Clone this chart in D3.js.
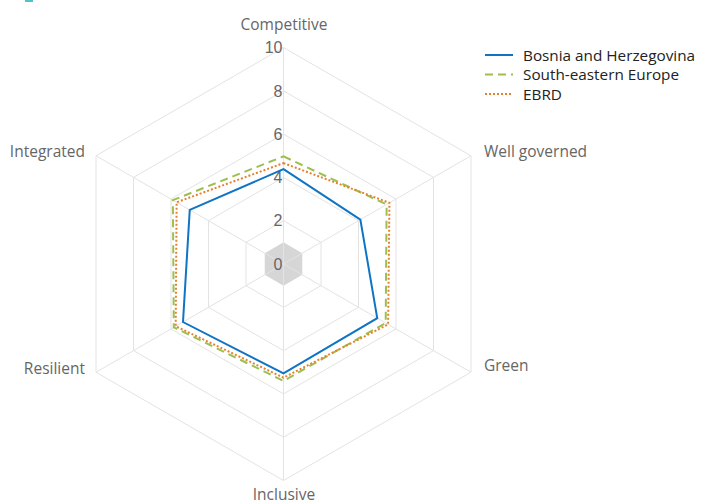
<!DOCTYPE html>
<html><head><meta charset="utf-8">
<script src="https://cdn.jsdelivr.net/npm/d3@7"></script>
<style>body{margin:0;background:#fff}</style>
</head><body>
<svg id="c" width="704" height="504"></svg>
<script>
const axes = ["Competitive","Well governed","Green","Inclusive","Resilient","Integrated"];
const seriesNames = ["Bosnia and Herzegovina","South-eastern Europe","EBRD"];
const bosnia = [4.38, 4.1, 5.0, 5.05, 5.36, 5.0];
const see = [4.97, 5.5, 5.45, 5.4, 5.85, 5.9];
const ebrd = [4.66, 5.65, 5.58, 5.25, 5.75, 5.7];
const ticks = [0, 2, 4, 6, 8, 10];
const colors = ["#0f74c4", "#9dbf4f", "#e5822e"];
const dashes = [null, "8,5", "2,2"];

const svg = d3.select("#c");
const cx = 283.5, cy = 264;
const r = d3.scaleLinear().domain([0, 10]).range([0, 216.5]);
const ang = d3.scalePoint().domain(axes).range([0, 2*Math.PI*5/6]);
const pt = (a, v) => [cx + r(v)*Math.sin(ang(a)), cy - r(v)*Math.cos(ang(a))];
const poly = vals => axes.map((a,i) => pt(a, vals[i]));
const line = d3.line().curve(d3.curveLinearClosed);

svg.append("rect").attr("x",25).attr("y",0).attr("width",8).attr("height",2).attr("fill","#4fc3c6");

// grey centre
svg.append("path").attr("d", line(axes.map(a => pt(a, 1)))).attr("fill", "#d6d6d6");

// grid rings
svg.selectAll(".ring").data(ticks.filter(t => t > 0)).join("path")
  .attr("d", t => line(axes.map(a => pt(a, t))))
  .attr("fill","none").attr("stroke","#e3e3e3").attr("stroke-width",1);
// spokes
svg.selectAll(".spoke").data(axes).join("line")
  .attr("x1",cx).attr("y1",cy)
  .attr("x2",a => pt(a,10)[0]).attr("y2",a => pt(a,10)[1])
  .attr("stroke","#e3e3e3").attr("stroke-width",1);

// tick labels
svg.selectAll(".tick").data(ticks).join("text")
  .attr("x", cx - 1).attr("y", t => cy - r(t)).attr("dy","0.36em")
  .attr("text-anchor","end")
  .style("font-family","'Liberation Sans', Arial, sans-serif").style("font-size","16px").attr("fill","#666")
  .text(d => d);

// series
const data = [bosnia, see, ebrd];
svg.selectAll(".series").data(data).join("path")
  .attr("d", d => line(poly(d)))
  .attr("fill","none")
  .attr("stroke",(d,i) => colors[i])
  .attr("stroke-width",2)
  .attr("stroke-dasharray",(d,i) => dashes[i]);

// axis labels
const lab = [
  {x: 284, y: 30, a: "middle"},
  {x: 484, y: 157, a: "start"},
  {x: 484, y: 371, a: "start"},
  {x: 284, y: 500, a: "middle"},
  {x: 85, y: 374, a: "end"},
  {x: 85, y: 157, a: "end"}
];
svg.selectAll(".alab").data(axes).join("text")
  .attr("x",(d,i)=>lab[i].x).attr("y",(d,i)=>lab[i].y)
  .attr("text-anchor",(d,i)=>lab[i].a)
  .style("font-family","'Open Sans', sans-serif").style("font-size","15.5px").attr("fill","#666")
  .text(d=>d);

// legend
const lg = svg.append("g").attr("transform","translate(485,55)");
seriesNames.forEach((n,i) => {
  const g = lg.append("g").attr("transform",`translate(0,${i*19.5})`);
  g.append("line").attr("x1",0).attr("x2",28).attr("y1",0).attr("y2",0)
    .attr("stroke",colors[i]).attr("stroke-width",2).attr("stroke-dasharray",dashes[i]);
  g.append("text").attr("x",38).attr("y",0).attr("dy","0.36em")
    .style("font-family","'Open Sans', sans-serif").style("font-size","15.3px").style("font-weight","500")
    .attr("fill","#222").text(n);
});
</script>
</body></html>
